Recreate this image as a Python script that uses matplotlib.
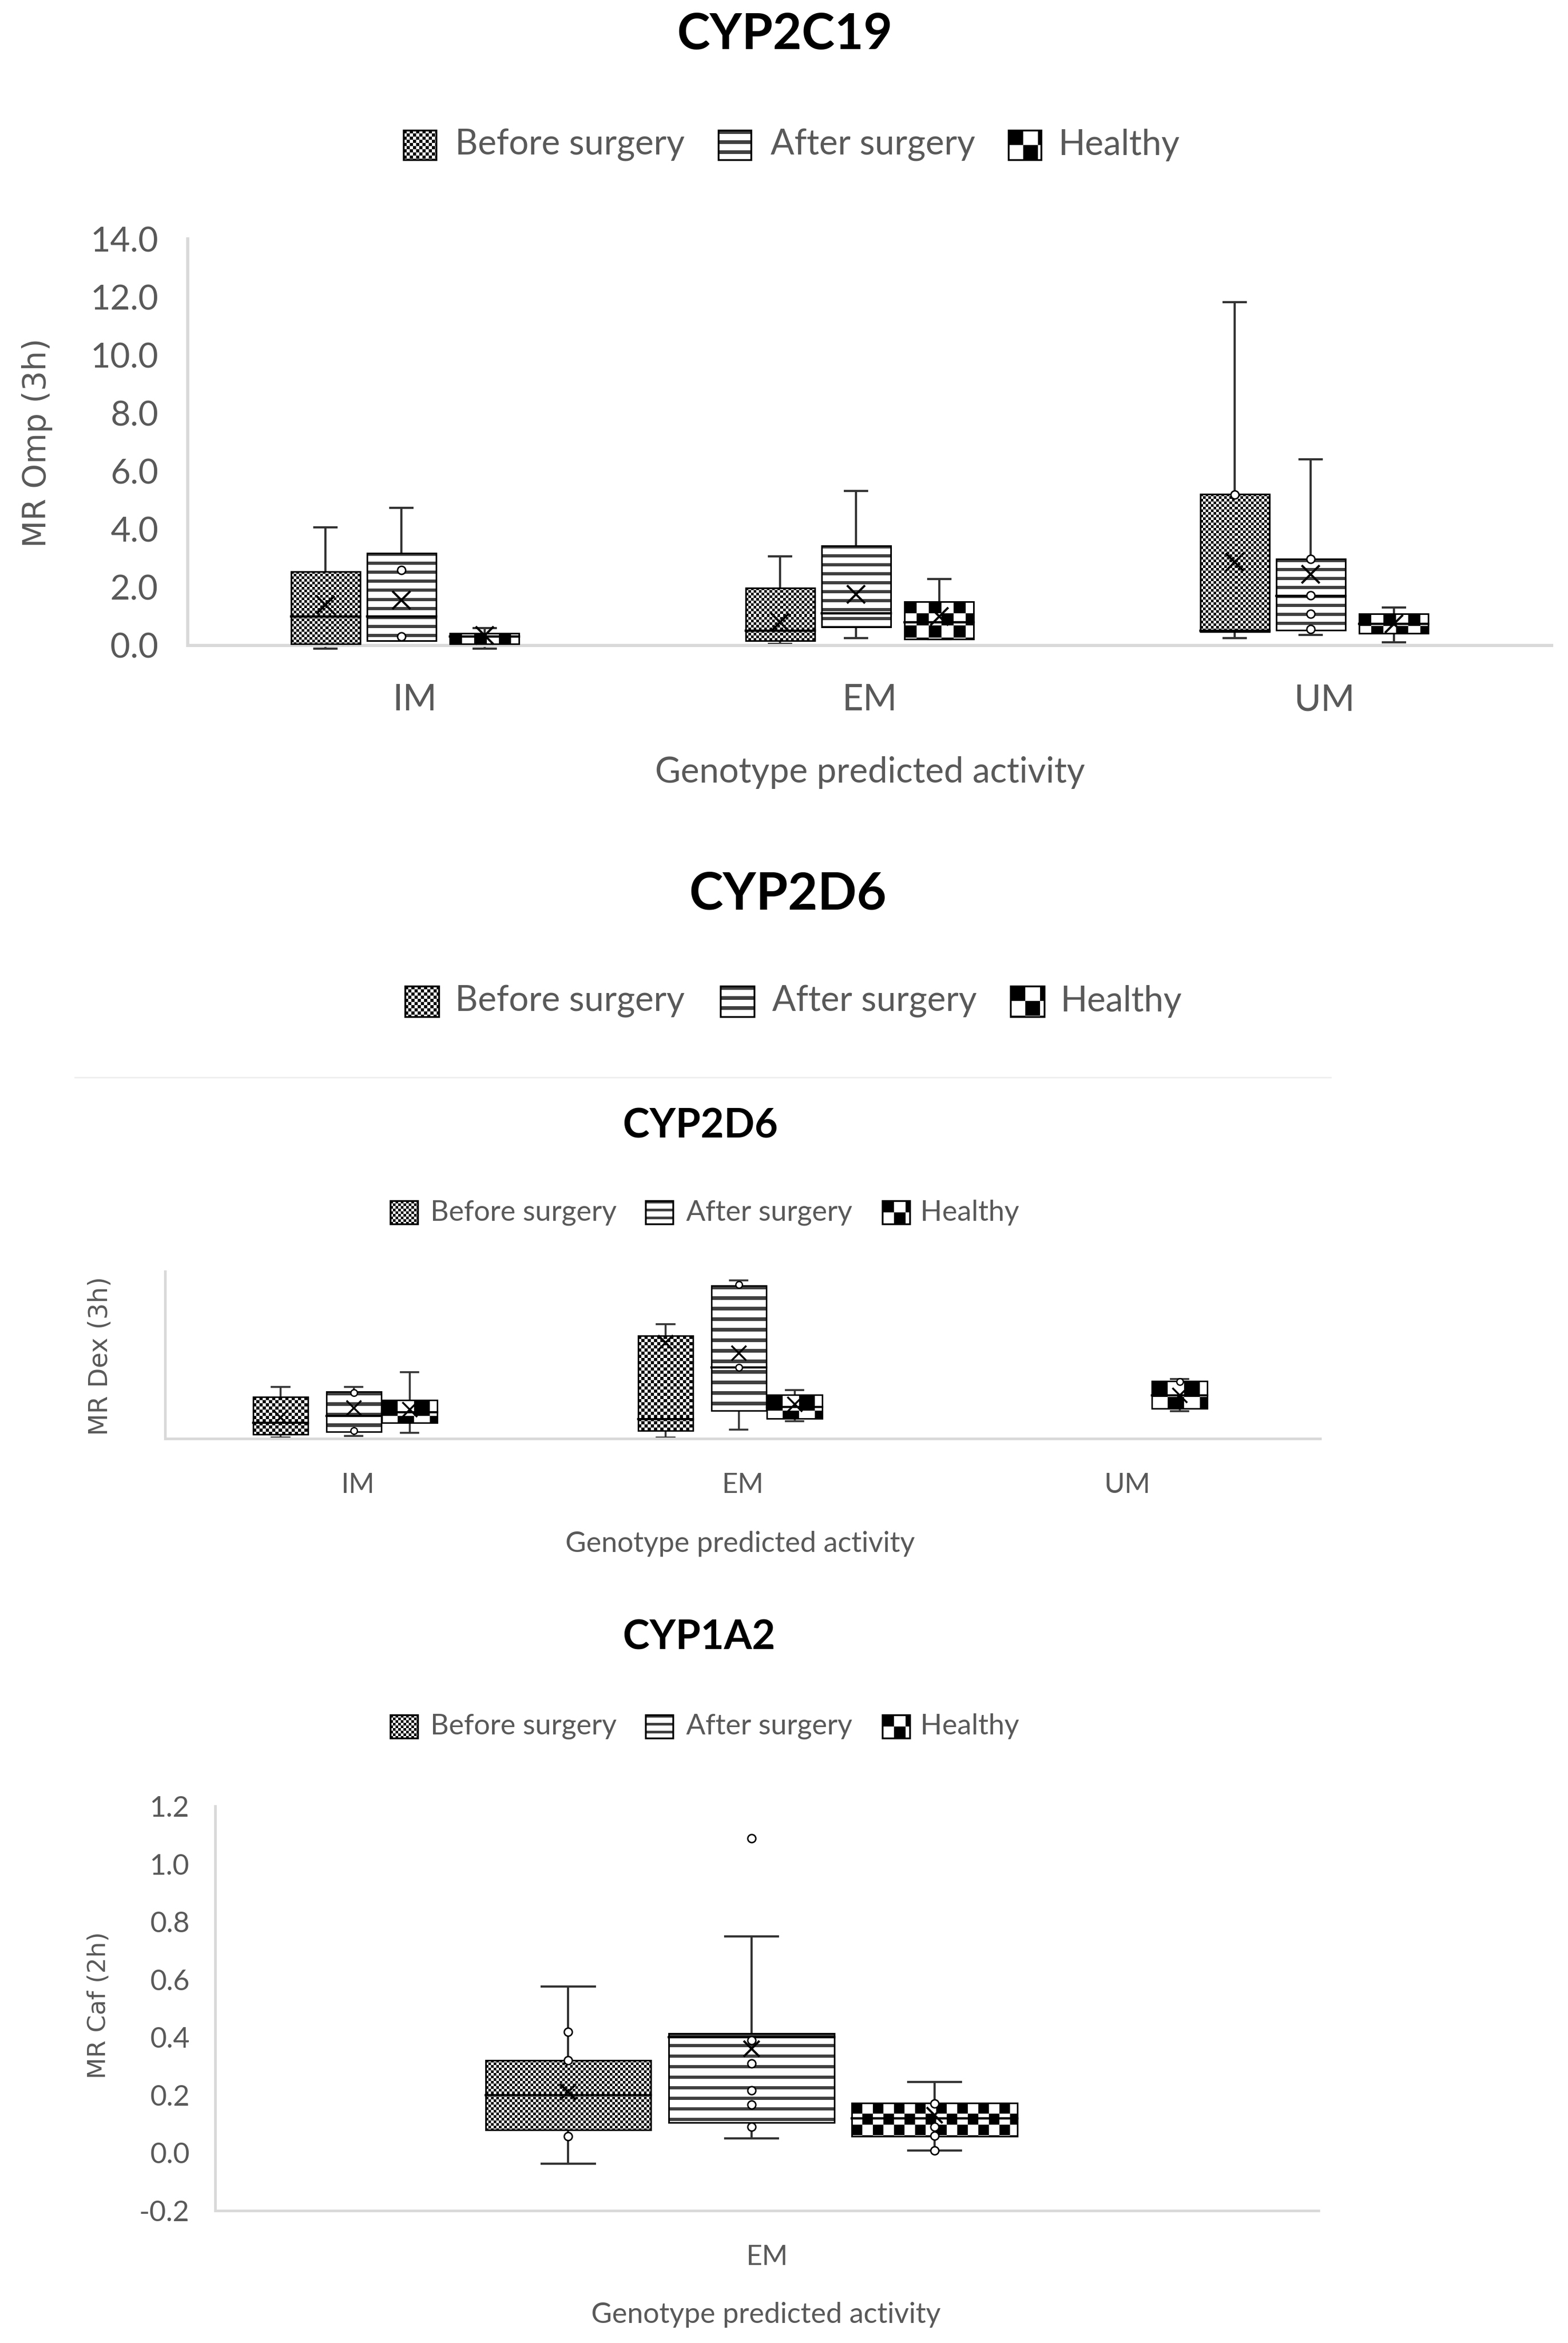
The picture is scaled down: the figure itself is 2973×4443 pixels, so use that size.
import numpy as np
import matplotlib
matplotlib.use('Agg')
import matplotlib.pyplot as plt
from matplotlib.patches import Rectangle
from matplotlib.ticker import FuncFormatter

plt.rcParams['axes.unicode_minus'] = False

W, H = 2973, 4443
DPI = 100

series = ['Before surgery', 'After surgery', 'Healthy']

# ---------------- CYP2C19 : MR Omp (3h) ----------------
c1_groups = ['IM', 'EM', 'UM']
c1_before_wlo = [-0.10, 0.05, 0.26]
c1_before_q1 = [0.05, 0.16, 0.47]
c1_before_med = [1.00, 0.50, 0.50]
c1_before_q3 = [2.55, 1.98, 5.21]
c1_before_whi = [4.07, 3.07, 11.83]
c1_before_mean = [1.40, 0.80, 2.87]
c1_before_pts = [[], [], [5.20]]

c1_after_wlo = [0.16, 0.26, 0.36]
c1_after_q1 = [0.16, 0.63, 0.52]
c1_after_med = [1.00, 1.10, 1.70]
c1_after_q3 = [3.18, 3.44, 2.97]
c1_after_whi = [4.74, 5.32, 6.41]
c1_after_mean = [1.56, 1.77, 2.45]
c1_after_pts = [[2.60, 0.30], [], [2.97, 1.72, 1.09, 0.57]]

c1_healthy_wlo = [-0.10, 0.21, 0.10]
c1_healthy_q1 = [0.05, 0.21, 0.42]
c1_healthy_med = [0.30, 0.80, 0.75]
c1_healthy_q3 = [0.42, 1.51, 1.09]
c1_healthy_whi = [0.60, 2.29, 1.30]
c1_healthy_mean = [0.35, 1.00, 0.75]
c1_healthy_pts = [[], [], []]

# ---------------- CYP2D6 : MR Dex (3h) (no tick labels, relative units) ----------------
c2_groups = ['IM', 'EM', 'UM']
c2_before_wlo = [0.02, 0.02, None]
c2_before_q1 = [0.08, 0.15, None]
c2_before_med = [0.30, 0.37, None]
c2_before_q3 = [0.79, 1.95, None]
c2_before_whi = [0.98, 2.17, None]
c2_before_mean = [0.40, 1.82, None]
c2_before_pts = [[], [], []]

c2_after_wlo = [0.05, 0.17, None]
c2_after_q1 = [0.13, 0.53, None]
c2_after_med = [0.43, 1.35, None]
c2_after_q3 = [0.89, 2.90, None]
c2_after_whi = [0.98, 3.00, None]
c2_after_mean = [0.58, 1.62, None]
c2_after_pts = [[0.87, 0.15], [2.92, 1.35], []]

c2_healthy_wlo = [0.11, 0.33, 0.52]
c2_healthy_q1 = [0.30, 0.38, 0.57]
c2_healthy_med = [0.50, 0.60, 0.82]
c2_healthy_q3 = [0.73, 0.83, 1.09]
c2_healthy_whi = [1.26, 0.92, 1.13]
c2_healthy_mean = [0.55, 0.65, 0.82]
c2_healthy_pts = [[], [], [1.08]]

# ---------------- CYP1A2 : MR Caf (2h) ----------------
c3_groups = ['EM']
c3_before_wlo = [-0.038]
c3_before_q1 = [0.079]
c3_before_med = [0.20]
c3_before_q3 = [0.321]
c3_before_whi = [0.576]
c3_before_mean = [0.21]
c3_before_pts = [[0.418, 0.32, 0.058]]

c3_after_wlo = [0.05]
c3_after_q1 = [0.105]
c3_after_med = [0.40]
c3_after_q3 = [0.413]
c3_after_whi = [0.75]
c3_after_mean = [0.36]
c3_after_pts = [[1.089, 0.39, 0.31, 0.217, 0.167, 0.09]]

c3_healthy_wlo = [0.008]
c3_healthy_q1 = [0.058]
c3_healthy_med = [0.12]
c3_healthy_q3 = [0.172]
c3_healthy_whi = [0.246]
c3_healthy_mean = [0.13]
c3_healthy_pts = [[0.17, 0.09, 0.06, 0.008]]

c1_yticks = [0, 2, 4, 6, 8, 10, 12, 14]
c3_yticks = [-0.2, 0.0, 0.2, 0.4, 0.6, 0.8, 1.0, 1.2]

GRAY_TXT = '#595959'
AXIS_COL = '#d9d9d9'
FONT = 'Lato'

fig = plt.figure(figsize=(W / DPI, H / DPI), dpi=DPI)
fig.patch.set_facecolor('white')

lay = fig.add_axes([0, 0, 1, 1])
lay.set_xlim(0, W)
lay.set_ylim(H, 0)
lay.axis('off')
lay.patch.set_visible(False)


def pattern(kind, w, h, pp):
    i = np.arange(h)[:, None]
    j = np.arange(w)[None, :]
    if kind == 0:
        c = pp[0]
        return (((i // c) + (j // c)) % 2).astype(float)
    if kind == 1:
        per, th = pp[1]
        return (np.where((i % per) < th, 0.25, 1.0) * np.ones((1, w)))
    c = pp[2]
    return (((i // c) + (j // c)) % 2).astype(float)


def fig_ax(l, r, t, b):
    return fig.add_axes([l / W, 1 - b / H, (r - l) / W, (b - t) / H])


def style_axis(ax, lw):
    for s in ['top', 'right']:
        ax.spines[s].set_visible(False)
    for s in ['left', 'bottom']:
        ax.spines[s].set_color(AXIS_COL)
        ax.spines[s].set_linewidth(lw)
    ax.tick_params(length=0)


def draw_box(ax, xc, w, wlo, q1, med, q3, whi, mean, pts, kind, pp, st):
    if q1 is None:
        return
    x0, x1 = xc - w / 2, xc + w / 2
    cw = w * 0.32
    wc = '#333333'
    ax.plot([xc, xc], [q3, whi], color=wc, lw=st['wlw'], zorder=2, clip_on=False, solid_capstyle='butt')
    ax.plot([xc, xc], [wlo, q1], color=wc, lw=st['wlw'], zorder=2, clip_on=False, solid_capstyle='butt')
    ax.plot([xc - cw / 2, xc + cw / 2], [whi, whi], color=wc, lw=st['wlw'], zorder=2, clip_on=False)
    ax.plot([xc - cw / 2, xc + cw / 2], [wlo, wlo], color=wc, lw=st['wlw'], zorder=2, clip_on=False)
    p0 = ax.transData.transform((x0, q1))
    p1 = ax.transData.transform((x1, q3))
    wpx = max(1, int(round(abs(p1[0] - p0[0]))))
    hpx = max(1, int(round(abs(p1[1] - p0[1]))))
    img = pattern(kind, wpx, hpx, pp)
    im = ax.imshow(img, cmap='gray', vmin=0, vmax=1, extent=(x0, x1, q1, q3), origin='upper',
                   interpolation='nearest', aspect='auto', zorder=3)
    im.set_clip_on(False)
    ax.add_patch(Rectangle((x0, q1), w, q3 - q1, fill=False, ec='black', lw=st['blw'], zorder=4, clip_on=False))
    ax.plot([x0, x1], [med, med], color='black', lw=st['mlw'], zorder=5, clip_on=False)
    if pts:
        ax.plot([xc] * len(pts), pts, 'o', mfc='white', mec='black', ms=st['pms'], mew=st['pmew'],
                zorder=6, clip_on=False)
    ax.plot([xc], [mean], marker='x', color='black', ms=st['xms'], mew=st['xmew'], zorder=7, clip_on=False)


def draw_chart(ax, groups, data, offsets, width, pp, st):
    for si in range(3):
        d = data[si]
        for gi in range(len(groups)):
            draw_box(ax, gi + offsets[si], width, d[0][gi], d[1][gi], d[2][gi], d[3][gi], d[4][gi],
                     d[5][gi], d[6][gi], si, pp, st)


def legend(y, px, tx, pw, ph, fs, pp):
    for k in range(3):
        x0 = px[k]
        img = pattern(k, pw, ph, pp)
        lay.imshow(img, cmap='gray', vmin=0, vmax=1, extent=(x0, x0 + pw, y + ph / 2, y - ph / 2),
                   origin='upper', interpolation='nearest', aspect='auto', zorder=3)
        lay.add_patch(Rectangle((x0, y - ph / 2), pw, ph, fill=False, ec='black', lw=2.5, zorder=4))
        lay.text(tx[k], y, series[k], ha='left', va='center', fontsize=fs, color=GRAY_TXT, family=FONT)


# ============ Chart 1 ============
ax1 = fig_ax(356, 2942, 453, 1224)
ax1.set_xlim(-0.5, 2.5)
ax1.set_ylim(0, 14)
style_axis(ax1, 4.3)
ax1.set_yticks(c1_yticks)
ax1.yaxis.set_major_formatter(FuncFormatter(lambda v, p: f'{v:.1f}'))
ax1.set_xticks(range(len(c1_groups)))
ax1.set_xticklabels(c1_groups)
ax1.tick_params(axis='y', pad=40, labelsize=47, labelcolor=GRAY_TXT)
ax1.tick_params(axis='x', pad=52, labelsize=50, labelcolor=GRAY_TXT)
for t in ax1.get_xticklabels() + ax1.get_yticklabels():
    t.set_family(FONT)
c1_data = [
    [c1_before_wlo, c1_before_q1, c1_before_med, c1_before_q3, c1_before_whi, c1_before_mean, c1_before_pts],
    [c1_after_wlo, c1_after_q1, c1_after_med, c1_after_q3, c1_after_whi, c1_after_mean, c1_after_pts],
    [c1_healthy_wlo, c1_healthy_q1, c1_healthy_med, c1_healthy_q3, c1_healthy_whi, c1_healthy_mean, c1_healthy_pts],
]
st1 = dict(wlw=3.0, blw=2.2, mlw=3.2, pms=11, pmew=2.0, xms=24, xmew=3.0)
draw_chart(ax1, c1_groups, c1_data, [-0.197, -0.030, 0.153], 0.152, (5, (17, 6), 23), st1)

lay.text(1488, 66, 'CYP2C19', ha='center', va='center', fontsize=68, fontweight='bold', family=FONT, color='black')
legend(275, [765, 1362, 1912], [863, 1461, 2007], 62, 56, 48, (6, (19, 7), 28))
lay.text(1650, 1465, 'Genotype predicted activity', ha='center', va='center', fontsize=48, color=GRAY_TXT, family=FONT)
lay.text(71, 840, 'MR Omp (3h)', ha='center', va='center', rotation=90, fontsize=43, color=GRAY_TXT,
         family='DejaVu Sans')

# ============ Chart 2 ============
lay.text(1494, 1696, 'CYP2D6', ha='center', va='center', fontsize=70, fontweight='bold', family=FONT, color='black')
legend(1899, [768, 1366, 1916], [863, 1464, 2011], 64, 58, 48, (6, (19, 7), 28))
lay.plot([142, 2523], [2043, 2043], color='#efefef', lw=2)

ax2 = fig_ax(313, 2503, 2411, 2728)
ax2.set_xlim(-0.5, 2.5)
ax2.set_ylim(0, 3.17)
style_axis(ax2, 3.6)
ax2.set_yticks([])
ax2.set_xticks(range(len(c2_groups)))
ax2.set_xticklabels(c2_groups)
ax2.tick_params(axis='x', pad=47, labelsize=38, labelcolor=GRAY_TXT)
for t in ax2.get_xticklabels():
    t.set_family(FONT)
c2_data = [
    [c2_before_wlo, c2_before_q1, c2_before_med, c2_before_q3, c2_before_whi, c2_before_mean, c2_before_pts],
    [c2_after_wlo, c2_after_q1, c2_after_med, c2_after_q3, c2_after_whi, c2_after_mean, c2_after_pts],
    [c2_healthy_wlo, c2_healthy_q1, c2_healthy_med, c2_healthy_q3, c2_healthy_whi, c2_healthy_mean, c2_healthy_pts],
]
st2 = dict(wlw=2.6, blw=2.0, mlw=3.0, pms=9, pmew=1.8, xms=20, xmew=2.6)
draw_chart(ax2, c2_groups, c2_data, [-0.200, -0.010, 0.135], 0.143, (6, (20, 7), 30), st2)

lay.text(1328, 2136, 'CYP2D6', ha='center', va='center', fontsize=55, fontweight='bold', family=FONT, color='black')
legend(2299, [740, 1224, 1673], [816, 1301, 1745], 52, 44, 39, (5, (15, 5), 22))
lay.text(1403, 2928, 'Genotype predicted activity', ha='center', va='center', fontsize=39, color=GRAY_TXT, family=FONT)
lay.text(190, 2571, 'MR Dex (3h)', ha='center', va='center', rotation=90, fontsize=35, color=GRAY_TXT,
         family='DejaVu Sans')

# ============ Chart 3 ============
ax3 = fig_ax(408, 2500, 3425, 4192)
ax3.set_xlim(-0.5, 0.5)
ax3.set_ylim(-0.2, 1.2)
style_axis(ax3, 3.6)
ax3.set_yticks(c3_yticks)
ax3.yaxis.set_major_formatter(FuncFormatter(lambda v, p: f'{v:.1f}'))
ax3.set_xticks(range(len(c3_groups)))
ax3.set_xticklabels(c3_groups)
ax3.tick_params(axis='y', pad=35, labelsize=39, labelcolor=GRAY_TXT)
ax3.tick_params(axis='x', pad=47, labelsize=38, labelcolor=GRAY_TXT)
for t in ax3.get_xticklabels() + ax3.get_yticklabels():
    t.set_family(FONT)
c3_data = [
    [c3_before_wlo, c3_before_q1, c3_before_med, c3_before_q3, c3_before_whi, c3_before_mean, c3_before_pts],
    [c3_after_wlo, c3_after_q1, c3_after_med, c3_after_q3, c3_after_whi, c3_after_mean, c3_after_pts],
    [c3_healthy_wlo, c3_healthy_q1, c3_healthy_med, c3_healthy_q3, c3_healthy_whi, c3_healthy_mean, c3_healthy_pts],
]
st3 = dict(wlw=3.0, blw=2.2, mlw=3.2, pms=11, pmew=2.0, xms=22, xmew=3.0)
draw_chart(ax3, c3_groups, c3_data, [-0.180, -0.014, 0.152], 0.150, (5, (20, 6), 20), st3)

lay.text(1325, 3106, 'CYP1A2', ha='center', va='center', fontsize=55, fontweight='bold', family=FONT, color='black')
legend(3274, [740, 1224, 1673], [816, 1301, 1745], 52, 44, 39, (5, (15, 5), 22))
lay.text(1452, 4390, 'Genotype predicted activity', ha='center', va='center', fontsize=39, color=GRAY_TXT, family=FONT)
lay.text(187, 3803, 'MR Caf (2h)', ha='center', va='center', rotation=90, fontsize=34, color=GRAY_TXT,
         family='DejaVu Sans')

fig.savefig('out.png', dpi=DPI, facecolor='white')
